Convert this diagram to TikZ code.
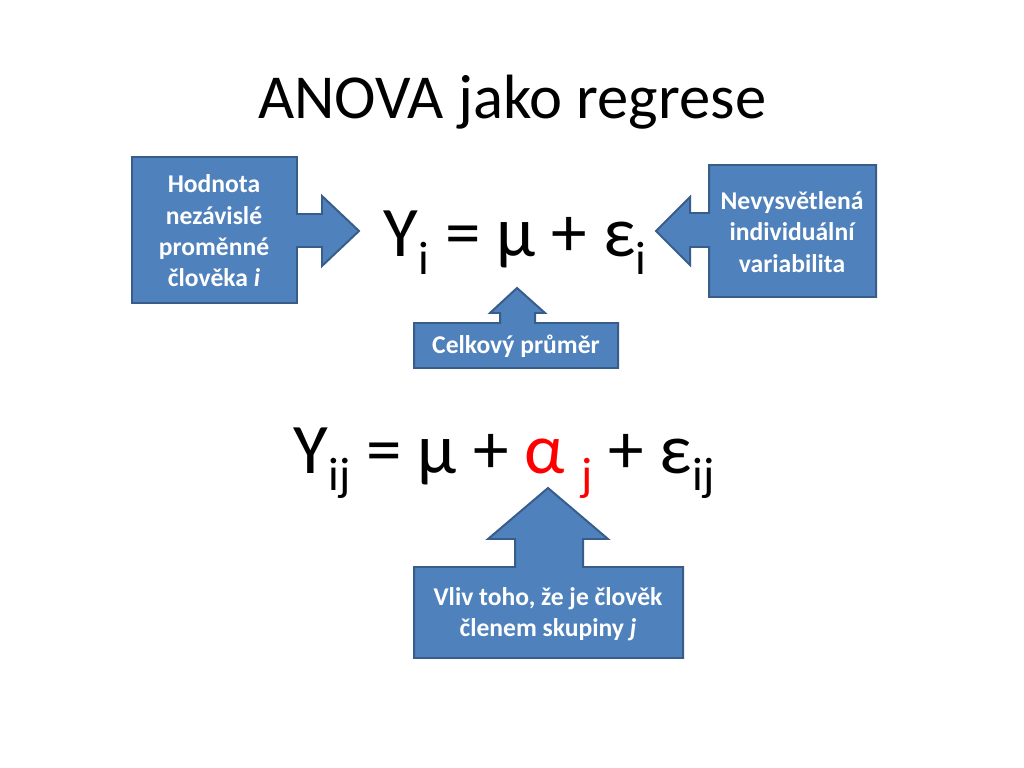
\documentclass[tikz,border=0pt]{standalone}
\usepackage{fontspec}
\setmainfont{Carlito}
\usepackage{tikz}
\definecolor{boxfill}{HTML}{4F81BD}
\definecolor{boxline}{HTML}{385D8A}
\newcommand{\lowsub}[1]{\raisebox{-0.24em}{\fontsize{33}{33}\selectfont #1}}

\begin{document}
\begin{tikzpicture}[x=0.703125pt,y=-0.703125pt,
		callout/.style={draw=boxline,fill=boxfill,line width=1.4pt,line join=miter},
		boxtext/.style={text=white,font=\fontsize{18}{22}\selectfont\bfseries,align=center},
		eqtext/.style={font=\fontsize{50}{56}\selectfont,anchor=base,inner sep=0pt}]
		\useasboundingbox[fill=white] (0,0) rectangle (1024,768);
		%\draw[help lines,step=50] (0,0) grid (1024,768);
		\node[anchor=base,font=\fontsize{44}{52}\selectfont] (title) at (512,119) {ANOVA jako regrese};
		% callouts
		\draw[callout] (132,157) -- (297,157) -- (297,214) -- (322,214) -- (322,196) -- (359,231) -- (322,266) -- (322,247) -- (297,247) -- (297,303) -- (132,303) -- cycle;
		\draw[callout] (876,165) -- (709,165) -- (709,213) -- (690,213) -- (690,197) -- (656,231) -- (690,265) -- (690,247) -- (709,247) -- (709,297) -- (876,297) -- cycle;
		\draw[callout] (414,368) -- (414,323) -- (500,323) -- (500,313) -- (490,313) -- (517,288) -- (545,313) -- (535,313) -- (535,323) -- (618,323) -- (618,368) -- cycle;
		\draw[callout] (414,658) -- (414,567) -- (515,567) -- (515,539) -- (488,539) -- (548,488) -- (608,539) -- (583,539) -- (583,567) -- (683,567) -- (683,658) -- cycle;
		\node[boxtext] (hodnota) at (214,231) {Hodnota\\nezávislé\\proměnné\\člověka \textit{i}};
		\node[boxtext] (nevysv) at (792,232) {Nevysvětlená\\individuální\\variabilita};
		\node[boxtext] (prumer) at (516,346) {Celkový průměr};
		\node[boxtext] (vliv) at (548,614) {Vliv toho, že je člověk\\členem skupiny \textit{j}};
		% equations
		\node[eqtext] (eqone) at (515,257) {Y\lowsub{i} = μ + ε\lowsub{i}};
		\node[eqtext] (eqtwo) at (504,473) {Y\lowsub{ij} = μ + \textcolor{red}{α \lowsub{j}} + ε\lowsub{ij}};
\end{tikzpicture}
\end{document}
